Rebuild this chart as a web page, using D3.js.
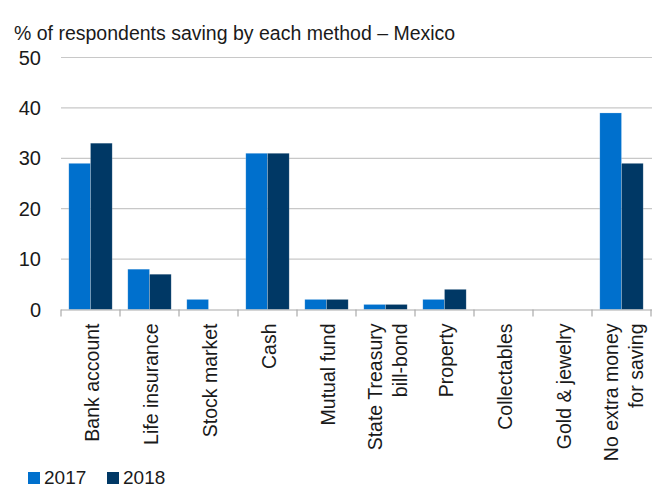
<!DOCTYPE html>
<html><head><meta charset="utf-8">
<script src="https://cdn.jsdelivr.net/npm/d3@7"></script>
<style>body{margin:0;background:#fff}svg{display:block}text{font-family:"Liberation Sans",Arial,Helvetica,sans-serif;fill:#1a1a1a}</style>
</head><body><svg id="c" width="667" height="488"></svg>
<script>
const categories = [["Bank account"],["Life insurance"],["Stock market"],["Cash"],["Mutual fund"],["State Treasury","bill-bond"],["Property"],["Collectables"],["Gold & jewelry"],["No extra money","for saving"]];
const series = ["2017","2018"];
const values2017 = [29,8,2,31,2,1,2,0,0,39];
const values2018 = [33,7,0,31,2,1,4,0,0,29];
const yTicks = [0,10,20,30,40,50];
const colors = ["#0070cd","#003865"];
const title = "% of respondents saving by each method \u2013 Mexico";

(function(){
const svg = d3.select("#c");
const mL = 61, mR = 651, mT = 57.5, mB = 309.5;
const x = d3.scaleBand().domain(d3.range(categories.length)).range([mL,mR]).paddingInner(0).paddingOuter(0);
const xs = d3.scaleBand().domain(series).range([0,x.bandwidth()]).paddingInner(0).paddingOuter(0.36);
const y = d3.scaleLinear().domain([0,50]).range([mB,mT]);

svg.append("g").selectAll("line").data(yTicks.filter(d=>d>0)).join("line")
  .attr("x1",mL).attr("x2",mR+1).attr("y1",d=>y(d)).attr("y2",d=>y(d))
  .attr("stroke","#c8c8c8").attr("stroke-width",1.2);

svg.append("g").selectAll("text").data(yTicks).join("text")
  .attr("x",41).attr("y",d=>y(d)+7).attr("text-anchor","end")
  .attr("font-size",20).text(d=>d);

const data = [values2017, values2018];
const g = svg.append("g");
categories.forEach((c,i)=>{
  series.forEach((s,j)=>{
    const v = data[j][i];
    if(v<=0) return;
    g.append("rect").attr("x",x(i)+xs(s)).attr("width",xs.bandwidth())
      .attr("y",y(v)).attr("height",y(0)-y(v))
      .attr("fill",colors[j]).attr("stroke","rgba(255,255,255,0.35)").attr("stroke-width",0.6);
  });
});

const ax = svg.append("g");
ax.append("line").attr("x1",mL).attr("x2",mR+1).attr("y1",mB+0.5).attr("y2",mB+0.5).attr("stroke","#aaaaaa").attr("stroke-width",1.2);
ax.selectAll("line.t").data(d3.range(categories.length+1)).join("line").attr("class","t")
  .attr("x1",d=>mL+d*x.step()).attr("x2",d=>mL+d*x.step())
  .attr("y1",mB).attr("y2",mB+7).attr("stroke","#aaaaaa").attr("stroke-width",1.2);

categories.forEach((lines,i)=>{
  const cx = x(i)+x.bandwidth()/2;
  const n = lines.length;
  lines.forEach((t,k)=>{
    const off = (k-(n-1)/2)*25;
    svg.append("text").attr("transform",`translate(${cx+off+8.5},${mB+14}) rotate(-90)`)
      .attr("text-anchor","end").attr("font-size",19.5).text(t);
  });
});

svg.append("text").attr("x",14).attr("y",39.5).attr("font-size",19.5).text(title);

const lx = [28,107];
series.forEach((s,j)=>{
  svg.append("rect").attr("x",lx[j]).attr("y",472).attr("width",12).attr("height",12).attr("fill",colors[j]);
  svg.append("text").attr("x",lx[j]+16).attr("y",484).attr("font-size",19).text(s);
});
})();
</script></body></html>
